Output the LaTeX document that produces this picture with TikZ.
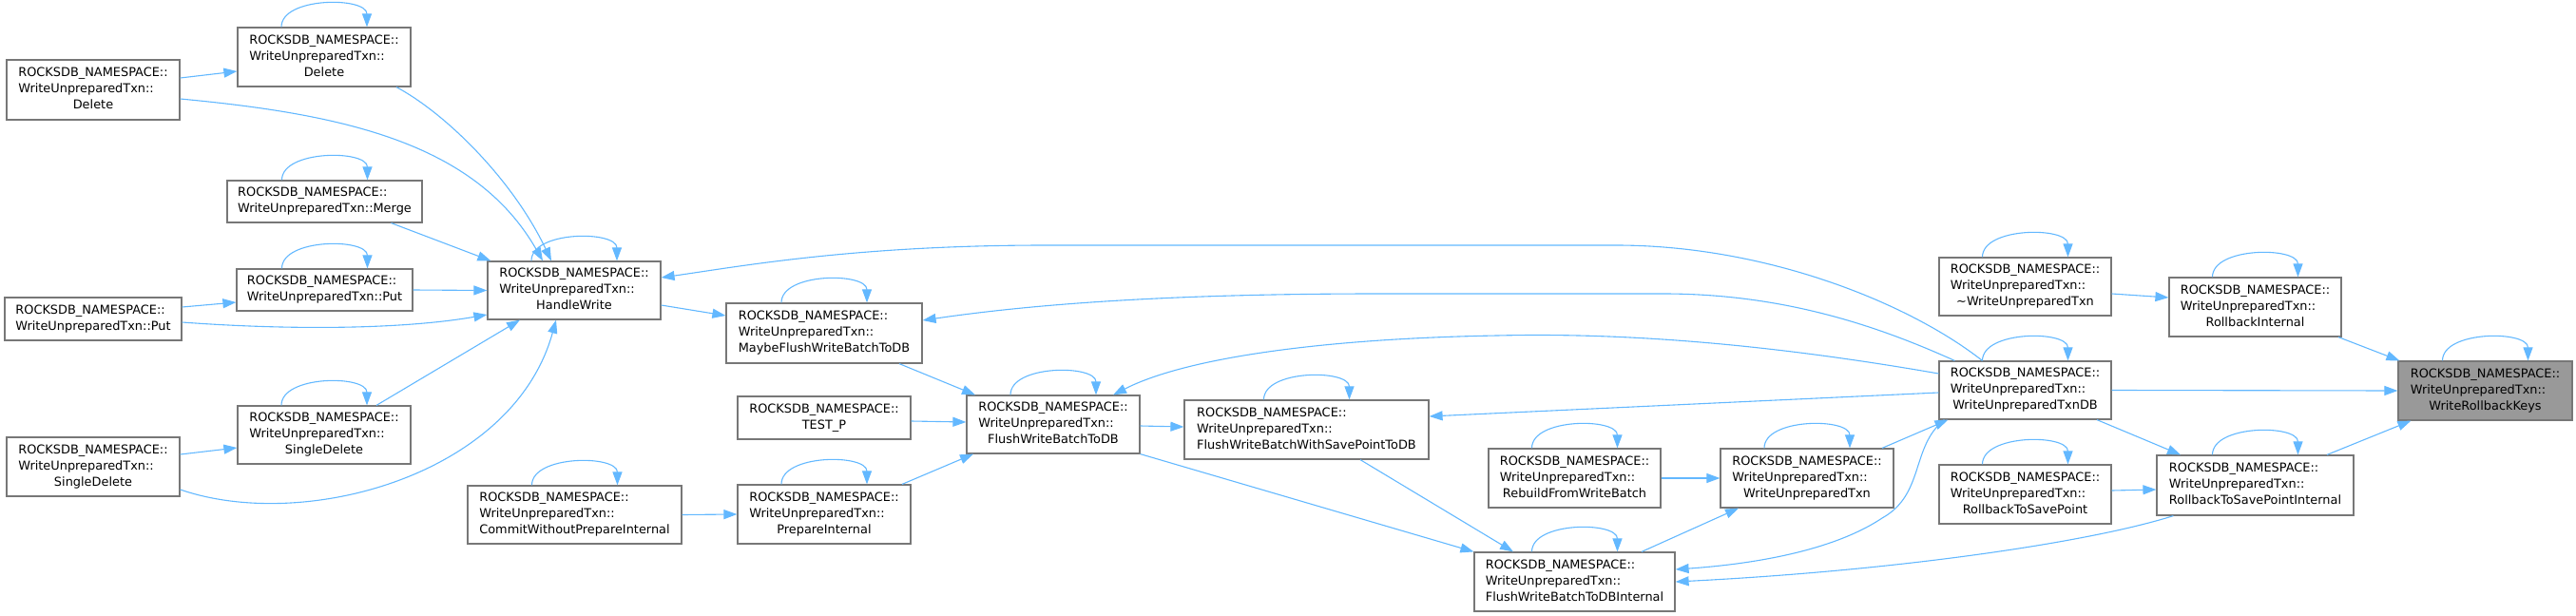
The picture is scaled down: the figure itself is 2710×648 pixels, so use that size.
\documentclass[tikz,border=0pt]{standalone}
\usepackage{fontspec}
\setmainfont{DejaVu Sans}
\usetikzlibrary{arrows.meta}
\definecolor{edgeblue}{HTML}{63B8FF}
\definecolor{nodeborder}{HTML}{777777}
\definecolor{curfill}{HTML}{999999}
\newcommand{\lblc}[3]{\begin{tabular}{@{}l@{}}#1\\#2\\\multicolumn{1}{@{}c@{}}{#3}\end{tabular}}
\newcommand{\lblb}[2]{\begin{tabular}{@{}l@{}}#1\\\multicolumn{1}{@{}c@{}}{#2}\end{tabular}}
\newcommand{\RN}{ROCKSDB\_NAMESPACE::}
\newcommand{\WU}{WriteUnpreparedTxn::}
\tikzset{
  fn/.style={draw=nodeborder, line width=1.2pt, fill=white, inner sep=0pt,
    font=\fontsize{12.9}{17}\selectfont, minimum width=182pt, minimum height=62pt},
  cur/.style={fn, fill=curfill},
  calls/.style={draw=edgeblue, line width=1.1pt, -{Triangle[length=14pt,width=10pt]}},
}
\begin{document}
\begin{tikzpicture}[x=1pt,y=-1pt]
\useasboundingbox (0,0) rectangle (2710,648);
% nodes
\node[fn, minimum height=63pt] (delL) at (98,94.5) {\lblc{\RN}{\WU}{Delete}};
\node[fn] (delM) at (341,60) {\lblc{\RN}{\WU}{Delete}};
\node[fn, minimum width=205pt, minimum height=44pt] (merge) at (341.5,212) {\lblb{\RN}{WriteUnpreparedTxn::Merge}};
\node[fn, minimum width=185pt, minimum height=44pt] (putM) at (341.5,305) {\lblb{\RN}{WriteUnpreparedTxn::Put}};
\node[fn, minimum width=186pt, minimum height=45pt] (putL) at (98,335.5) {\lblb{\RN}{WriteUnpreparedTxn::Put}};
\node[fn, minimum height=61pt] (sdelM) at (341,457.5) {\lblc{\RN}{\WU}{SingleDelete}};
\node[fn] (sdelL) at (98,491) {\lblc{\RN}{\WU}{SingleDelete}};
\node[fn, minimum height=61pt] (hw) at (604,305.5) {\lblc{\RN}{\WU}{HandleWrite}};
\node[fn, minimum width=225pt, minimum height=61pt] (commit) at (604.5,541.5) {\lblc{\RN}{\WU}{CommitWithoutPrepareInternal}};
\node[fn, minimum width=206pt, minimum height=63pt] (maybe) at (867,350.5) {\lblc{\RN}{\WU}{MaybeFlushWriteBatchToDB}};
\node[fn, minimum height=45pt] (testp) at (867,439.5) {\lblb{\RN}{TEST\_P}};
\node[fn] (prep) at (867,541) {\lblc{\RN}{\WU}{PrepareInternal}};
\node[fn, minimum height=61pt] (fwb) at (1108,446.5) {\lblc{\RN}{\WU}{FlushWriteBatchToDB}};
\node[fn, minimum width=257pt] (fwbsp) at (1374.5,452) {\lblc{\RN}{\WU}{FlushWriteBatchWithSavePointToDB}};
\node[fn, minimum width=181pt] (rebuild) at (1656.5,503) {\lblc{\RN}{\WU}{RebuildFromWriteBatch}};
\node[fn] (ctor) at (1901,503) {\lblc{\RN}{\WU}{WriteUnpreparedTxn}};
\node[fn, minimum width=211pt] (fwbi) at (1656.5,612) {\lblc{\RN}{\WU}{FlushWriteBatchToDBInternal}};
\node[fn, minimum width=181pt, minimum height=61pt] (dtor) at (2130.5,301.5) {\lblc{\RN}{\WU}{\textasciitilde WriteUnpreparedTxn}};
\node[fn, minimum width=181pt, minimum height=61pt] (txndb) at (2130.5,410.5) {\lblc{\RN}{\WU}{WriteUnpreparedTxnDB}};
\node[fn, minimum width=181pt] (rbsp) at (2130.5,520) {\lblc{\RN}{\WU}{RollbackToSavePoint}};
\node[fn, minimum width=181pt] (rbint) at (2372.5,323) {\lblc{\RN}{\WU}{RollbackInternal}};
\node[fn, minimum width=207pt, minimum height=63pt] (rbspint) at (2372.5,510.5) {\lblc{\RN}{\WU}{RollbackToSavePointInternal}};
\node[cur, minimum width=183pt] (wrk) at (2614.5,411) {\lblc{\RN}{\WU}{WriteRollbackKeys}};
% self loops
\foreach \n in {delM,merge,putM,sdelM,hw,commit,maybe,prep,fwb,fwbsp,rebuild,ctor,fwbi,dtor,txndb,rbsp,rbint,rbspint,wrk}
  \draw[calls] ([xshift=-45pt]\n.north) .. controls ([xshift=-45pt,yshift=32pt]\n.north) and ([xshift=45pt,yshift=32pt]\n.north) .. ([xshift=45pt]\n.north);
% left part
\draw[calls] ([yshift=12.5pt]delL.east) -- ([yshift=-15pt]delM.west);
\draw[calls] ([yshift=-9.5pt]delL.east) .. controls (360,120) and (500,150) .. ([xshift=-33pt]hw.north);
\draw[calls] ([xshift=76pt]delM.south) .. controls (470,120) and (540,190) .. ([xshift=-24pt]hw.north);
\draw[calls] ([xshift=70pt]merge.south) -- ([xshift=4pt]hw.north west);
\draw[calls] (putM.east) -- (hw.west);
\draw[calls] ([yshift=12.5pt]putL.east) -- ([yshift=-13pt]putM.west);
\draw[calls] ([yshift=-3.5pt]putL.east) .. controls (300,347) and (420,347) .. ([yshift=-25.5pt]hw.west);
\draw[calls] ([yshift=13pt]sdelL.east) -- ([yshift=-13.5pt]sdelM.west);
\draw[calls] ([xshift=55pt]sdelM.north) -- ([xshift=-57pt]hw.south);
\draw[calls] ([yshift=-24pt]sdelL.east) .. controls (320,560) and (540,500) .. ([xshift=-19pt]hw.south);
\draw[calls] ([yshift=-15.5pt]hw.east) -- ([yshift=18.5pt]maybe.west);
\draw[calls] (commit.east) -- (prep.west);
\draw[calls] ([xshift=79pt]maybe.south) -- ([xshift=-82pt]fwb.north);
\draw[calls] ([yshift=-3.5pt]testp.east) -- ([yshift=2.5pt]fwb.west);
\draw[calls] ([xshift=82pt]prep.north) -- ([xshift=-84pt]fwb.south);
\draw[calls] ([yshift=-1.5pt]fwb.east) -- ([yshift=3pt]fwbsp.west);
\draw[calls] (fwb.south east) -- (fwbi.north west);
\draw[calls] ([xshift=56.5pt]fwbsp.south) -- ([xshift=-64.5pt]fwbi.north);
\draw[calls] ([xshift=70.5pt]fwbi.north) -- ([xshift=-72pt]ctor.south);
\draw[calls] (rebuild.east) -- (ctor.west);
\draw[calls] ([xshift=79pt]ctor.north) -- ([xshift=10pt]txndb.south west);
% long edges from txndb
\draw[calls] ([xshift=46pt]txndb.north west) .. controls (2010,320) and (1860,258) .. (1700,258)
  -- (1100,258) .. controls (900,258) and (780,280) .. ([yshift=13.5pt]hw.east);
\draw[calls] ([xshift=17pt]txndb.north west) .. controls (1980,345) and (1880,309) .. (1750,309)
  -- (1450,309) .. controls (1250,309) and (1100,318) .. ([yshift=13.5pt]maybe.east);
\draw[calls] ([yshift=17.5pt]txndb.west) .. controls (1850,360) and (1700,350) .. (1575,353)
  .. controls (1400,356) and (1250,375) .. ([xshift=63pt]fwb.north);
\draw[calls] ([yshift=-2.5pt]txndb.west) -- ([yshift=14pt]fwbsp.east);
\draw[calls] ([xshift=6pt]txndb.south west) .. controls (2010,470) and (2025,520) .. (1980,545)
  .. controls (1920,585) and (1820,595) .. ([yshift=13pt]fwbi.east);
\draw[calls] (txndb.east) -- (wrk.west);
\draw[calls] ([xshift=75.5pt]txndb.south) -- ([xshift=-78.5pt]rbspint.north);
% right part
\draw[calls] ([yshift=-7.5pt]dtor.east) -- ([yshift=10pt]rbint.west);
\draw[calls] ([xshift=87.5pt]rbint.south) -- ([xshift=2pt]wrk.north west);
\draw[calls] ([xshift=75.5pt]rbspint.north) -- ([xshift=14pt]wrk.south west);
\draw[calls] ([yshift=4pt]rbsp.east) -- ([yshift=-4.5pt]rbspint.west);
\draw[calls] ([xshift=18pt]rbspint.south west) .. controls (2200,570) and (2000,600) .. (fwbi.east);
\end{tikzpicture}
\end{document}
